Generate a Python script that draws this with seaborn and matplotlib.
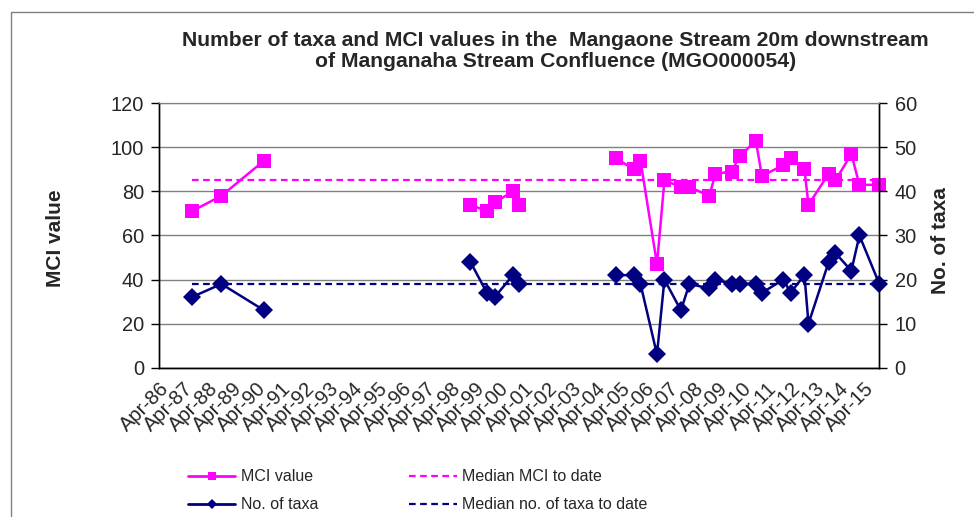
"""
Number of taxa and MCI values, Mangaone Stream 20m downstream of the
Manganaha Stream confluence (MGO000054), redrawn with seaborn.
"""
import pandas as pd
import seaborn as sns
import matplotlib.pyplot as plt
import matplotlib.dates as mdates
from matplotlib.lines import Line2D
from matplotlib.patches import Rectangle

# sampling dates
sample_dates = ['1987-08-01', '1988-10-20', '1990-07-25', '1999-01-20',
                '1999-09-25', '2000-01-20', '2000-10-20', '2001-01-20',
                '2005-01-20', '2005-10-10', '2006-01-20', '2006-09-25',
                '2007-01-15', '2007-09-20', '2008-01-25', '2008-11-20',
                '2009-02-20', '2009-10-20', '2010-02-20', '2010-10-20',
                '2011-01-20', '2011-12-10', '2012-03-25', '2012-10-20',
                '2012-12-20', '2013-10-20', '2014-01-30', '2014-09-25',
                '2015-01-25', '2015-11-20']
mci_values = [71, 78, 94, 74, 71, 75, 80, 74, 95, 90, 94, 47, 85, 82, 82,
              78, 88, 89, 96, 103, 87, 92, 95, 90, 74, 88, 85, 97, 83, 83]
taxa_counts = [16, 19, 13, 24, 17, 16, 21, 19, 21, 21, 19, 3, 20, 13, 19,
               18, 20, 19, 19, 19, 17, 20, 17, 21, 10, 24, 26, 22, 30, 19]
median_mci = 85
median_taxa = 19
axis_start = '1986-04-01'

MAGENTA = '#FF00FF'
NAVY = '#000080'
GRID = '#808080'


def build_frame():
    '''
    Puts the survey values in one data frame. Excel leaves the line
    broken where years were skipped, so each unbroken run gets an id.
    '''
    df = pd.DataFrame({'Date': pd.to_datetime(sample_dates),
                       'MCI': mci_values, 'Taxa': taxa_counts})
    df['Run'] = (df['Date'].diff() > pd.Timedelta(days=900)).cumsum()
    return df


def main():
    sns.set_style('white')
    plt.rcParams['font.family'] = ['Liberation Sans', 'DejaVu Sans']

    df = build_frame()
    start = pd.Timestamp(axis_start)
    end = df['Date'].iloc[-1]
    med = pd.DataFrame({'Date': [df['Date'].iloc[0], end]})

    fig = plt.figure(figsize=(9.74, 5.17), dpi=100)
    ax = fig.add_axes([0.1636, 0.2888, 0.7392, 0.5114])
    ax2 = ax.twinx()

    # MCI on the left axis
    sns.lineplot(data=df, x='Date', y='MCI', units='Run', estimator=None,
                 color=MAGENTA, linewidth=1.8, marker='s', markersize=10,
                 markeredgewidth=0, ax=ax)
    sns.lineplot(x=med['Date'], y=[median_mci] * 2, color=MAGENTA,
                 linewidth=1.6, linestyle=(0, (3, 2)), ax=ax)

    # taxa on the right axis
    sns.lineplot(data=df, x='Date', y='Taxa', units='Run', estimator=None,
                 color=NAVY, linewidth=1.8, marker='D', markersize=9,
                 markeredgewidth=0, ax=ax2)
    sns.lineplot(x=med['Date'], y=[median_taxa] * 2, color=NAVY,
                 linewidth=1.6, linestyle=(0, (3, 2)), ax=ax2)

    for line in ax.lines + ax2.lines:
        line.set_clip_on(False)

    ax.set_ylim(0, 120)
    ax.set_yticks(range(0, 121, 20))
    ax2.set_ylim(0, 60)
    ax2.set_yticks(range(0, 61, 10))
    ax.set_xlim(start, end)
    ax.xaxis.set_major_locator(mdates.YearLocator(1, month=4, day=1))
    ax.xaxis.set_major_formatter(mdates.DateFormatter('%b-%y'))

    ax.grid(axis='y', color=GRID, linewidth=1)
    ax.set_axisbelow(True)
    for a in (ax, ax2):
        a.set_xlabel('')
        a.set_ylabel('')
        for side in ('left', 'right', 'bottom'):
            a.spines[side].set_color('black')
            a.spines[side].set_linewidth(1)
        a.spines['top'].set_color(GRID)
        a.tick_params(direction='out', length=6, width=1, color='black',
                      labelsize=14.4, pad=5)
    ax.tick_params(axis='x', labelsize=14.5, pad=2)
    plt.setp(ax.get_xticklabels(), rotation=45, ha='right',
             rotation_mode='anchor')

    fig.text(0.057, 0.54, 'MCI value', rotation=90, ha='center',
             va='center', fontsize=15, fontweight='bold')
    fig.text(0.966, 0.535, 'No. of taxa', rotation=90, ha='center',
             va='center', fontsize=15, fontweight='bold')
    fig.text(0.57, 0.901, 'Number of taxa and MCI values in the  Mangaone '
             'Stream 20m downstream\nof Manganaha Stream Confluence '
             '(MGO000054)', ha='center', va='center', fontsize=15.2,
             fontweight='bold', linespacing=1.17)

    handles = [
        Line2D([], [], color=MAGENTA, lw=2, marker='s', markersize=6,
               markeredgewidth=0),
        Line2D([], [], color=NAVY, lw=2, marker='D', markersize=5,
               markeredgewidth=0),
        Line2D([], [], color=MAGENTA, lw=1.6, linestyle=(0, (3, 2))),
        Line2D([], [], color=NAVY, lw=1.6, linestyle=(0, (3, 2))),
    ]
    labels = ['MCI value', 'No. of taxa', 'Median MCI to date',
              'Median no. of taxa to date']
    fig.legend(handles, labels, loc='upper left', ncol=2,
               bbox_to_anchor=(0.193, 0.092), borderpad=0, borderaxespad=0,
               frameon=False, handlelength=2.95, handletextpad=0.37,
               columnspacing=5.7, labelspacing=0.8,
               prop={'size': 11.5})

    fig.add_artist(Rectangle((0.0113, -0.1), 1.2, 1.0768, fill=False,
                             edgecolor=GRID, linewidth=1,
                             transform=fig.transFigure))

    fig.savefig('out.png', dpi=100)


if __name__ == '__main__':
    main()
